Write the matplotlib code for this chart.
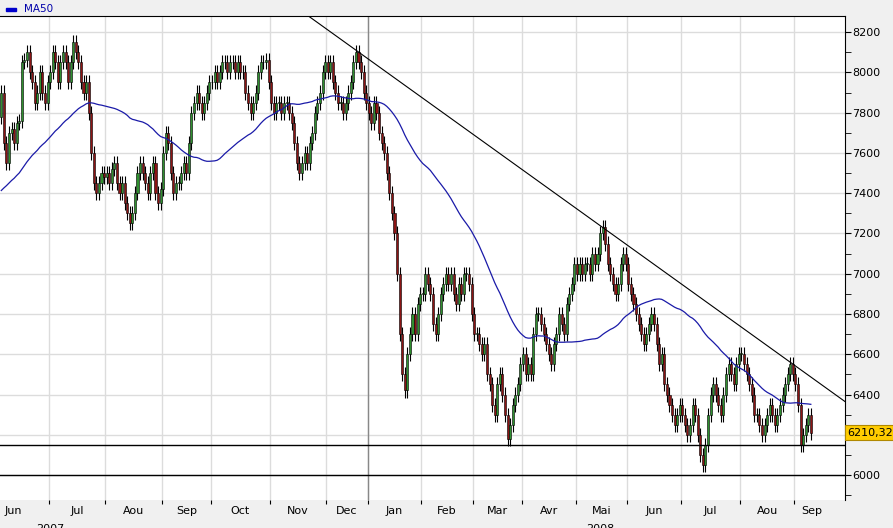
import numpy as np
import pandas as pd
import matplotlib.pyplot as plt
from matplotlib.patches import Rectangle

# -----------------------------
# Data (daily closes)
# -----------------------------
MONTHS = ["Jun", "Jul", "Aou", "Sep", "Oct", "Nov", "Dec", "Jan",
          "Feb", "Mar", "Avr", "Mai", "Jun", "Jul", "Aou", "Sep"]

# history before the visible window, only used for the MA50
PRE_CLOSES = [7000, 7020, 6980, 7050, 7080, 7100, 7060, 7120, 7150, 7130,
              7180, 7200, 7170, 7220, 7250, 7230, 7280, 7300, 7260, 7320,
              7350, 7330, 7380, 7400, 7370, 7420, 7450, 7430, 7470, 7500,
              7480, 7520, 7550, 7530, 7560, 7580, 7550, 7600, 7620, 7600,
              7640, 7660, 7630, 7680, 7700, 7680, 7720, 7750, 7730, 7780]

CLOSES = [
    # Jun 07
    [7900, 7650, 7550, 7700, 7720, 7650, 7750, 7760, 8050, 8060, 8100, 8000,
     7950, 7850, 7900, 8000, 7900, 7850, 7950],
    # Jul
    [8000, 8100, 8050, 7950, 8050, 8100, 8050, 7950, 8050, 8150, 8100, 8050,
     7950, 7900, 7950, 7800, 7600, 7450, 7400, 7450, 7500, 7480],
    # Aou
    [7500, 7450, 7520, 7550, 7450, 7400, 7450, 7350, 7300, 7250, 7300, 7400,
     7500, 7550, 7500, 7450, 7400, 7500, 7550, 7400, 7350, 7420],
    # Sep
    [7600, 7700, 7650, 7500, 7400, 7450, 7450, 7500, 7550, 7500, 7650, 7800,
     7850, 7900, 7850, 7800, 7850, 7900, 7950],
    # Oct
    [7950, 8000, 7950, 8000, 8050, 8050, 8000, 8050, 8050, 8000, 8050, 8000,
     8000, 7900, 7850, 7800, 7850, 7900, 8000, 8050, 8050, 8060, 7950],
    # Nov
    [7850, 7800, 7850, 7850, 7800, 7850, 7850, 7800, 7750, 7650, 7550, 7500,
     7550, 7600, 7550, 7650, 7700, 7800, 7850, 7900, 8000, 8050],
    # Dec
    [8000, 8050, 7950, 7900, 7850, 7850, 7800, 7850, 7900, 7950, 8050, 8100,
     8050, 8000, 7900, 7850],
    # Jan 08
    [7800, 7750, 7850, 7800, 7700, 7650, 7600, 7500, 7400, 7300, 7200, 7000,
     6700, 6500, 6420, 6600, 6700, 6800, 6700, 6850, 6900],
    # Feb
    [6900, 7000, 6950, 6900, 6750, 6700, 6800, 6900, 6950, 7000, 6950, 7000,
     6900, 6850, 6950, 6900, 7000, 7000, 6950, 6800],
    # Mar
    [6700, 6700, 6650, 6600, 6650, 6500, 6450, 6350, 6300, 6450, 6500, 6400,
     6300, 6180, 6250, 6350, 6400, 6450, 6550],
    # Avr
    [6600, 6500, 6550, 6500, 6700, 6800, 6800, 6750, 6700, 6650, 6600, 6550,
     6650, 6700, 6800, 6750, 6700, 6850, 6900, 6950, 7050],
    # Mai
    [7000, 7050, 7000, 7050, 7050, 7000, 7100, 7050, 7100, 7200, 7230, 7150,
     7050, 7000, 6950, 6900, 6950, 7050, 7100, 7050],
    # Jun
    [6950, 6900, 6850, 6800, 6750, 6700, 6650, 6700, 6750, 6800, 6750, 6650,
     6550, 6600, 6450, 6400, 6350, 6300, 6250, 6300, 6350],
    # Jul
    [6300, 6250, 6200, 6250, 6350, 6300, 6200, 6100, 6050, 6150, 6300, 6400,
     6450, 6400, 6350, 6300, 6400, 6500, 6550, 6500, 6450, 6550, 6600],
    # Aou
    [6600, 6550, 6500, 6450, 6400, 6300, 6300, 6250, 6200, 6250, 6300, 6350,
     6300, 6250, 6300, 6350, 6400, 6450, 6500, 6550, 6500],
    # Sep
    [6450, 6350, 6150, 6200, 6250, 6300, 6210.32],
]

TREND = [(119.5, 8280), (328.3, 6365)]     # (day, price)
SUPPORT = [6150, 6000]

UP = "#2f8f2f"
DOWN = "#8b1414"
MA_COLOR = "#1a1aa8"
GRID = "#dcdcdc"


def main():
    closes = np.array([c for m in CLOSES for c in m], dtype=float)
    n = len(closes)
    days = np.arange(n)

    full = pd.Series(np.concatenate([PRE_CLOSES, closes]))
    ma = full.rolling(50).mean().to_numpy()[len(PRE_CLOSES):]

    opens = np.concatenate([[PRE_CLOSES[-1]], closes[:-1]])
    highs = np.maximum(opens, closes) + 35
    lows = np.minimum(opens, closes) - 35

    fig = plt.figure(figsize=(8.93, 5.28), dpi=100)
    fig.patch.set_facecolor("#f0f0f0")
    ax = fig.add_axes([0, 1 - 500 / 528, 845 / 893, 484 / 528])
    ax.set_facecolor("white")

    ax.set_xlim(-0.5, 328.3)
    ax.set_ylim(5876, 8280)

    # grid
    yt = np.arange(6000, 8201, 200)
    for y in yt:
        ax.axhline(y, color=GRID, lw=1, zorder=0)
    lens = [len(m) for m in CLOSES]
    bounds = np.cumsum(lens)[:-1] - 0.5
    for b in bounds:
        ax.axvline(b, color=GRID, lw=1, zorder=0)
    ax.axvline(bounds[6], color="#888888", lw=1, zorder=1)

    # candles
    for i in days:
        o, c = opens[i], closes[i]
        col = UP if c >= o else DOWN
        ax.vlines(i, lows[i], highs[i], color="black", lw=0.8, zorder=2)
        ax.add_patch(Rectangle((i - 0.4, min(o, c)), 0.8, max(abs(c - o), 4),
                               facecolor=col, edgecolor="black", lw=0.4, zorder=3))

    ax.plot(days, ma, color=MA_COLOR, lw=0.9, zorder=4)

    (x0, y0), (x1, y1) = TREND
    ax.plot([x0, x1], [y0, y1], color="black", lw=0.8, zorder=5)
    for s in SUPPORT:
        ax.axhline(s, color="black", lw=1, zorder=5)

    # axes styling
    for sp in ["left", "bottom"]:
        ax.spines[sp].set_visible(False)
    ax.spines["top"].set_color("black")
    ax.spines["right"].set_color("black")
    ax.yaxis.tick_right()
    ax.set_yticks(yt)
    # the 6200 label sits under the last-price tag
    ax.set_yticklabels(["" if v == 6200 else str(v) for v in yt], fontsize=8)
    ax.set_yticks(np.arange(5900, 8300, 200), minor=True)
    ax.tick_params(axis="y", which="both", length=4, direction="out", pad=1)

    starts = np.concatenate([[-0.5], bounds])
    ends = np.concatenate([bounds, [n - 0.5 + 7]])
    centers = (starts + ends) / 2
    centers[0] = 4.5
    ax.set_xticks(bounds)
    ax.set_xticklabels([])
    ax.tick_params(axis="x", length=3, direction="out")
    for cx, lab in zip(centers, MONTHS):
        ax.text(cx, -0.012, lab, transform=ax.get_xaxis_transform(),
                ha="center", va="top", fontsize=8)
    ax.text(19, -0.05, "2007", transform=ax.get_xaxis_transform(),
            ha="center", va="top", fontsize=8)
    ax.text(233, -0.05, "2008", transform=ax.get_xaxis_transform(),
            ha="center", va="top", fontsize=8)

    # last price tag
    ax.text(1.003, closes[-1], f"{closes[-1]:.2f}".replace(".", ","),
            transform=ax.get_yaxis_transform(), ha="left", va="center",
            fontsize=8, bbox=dict(boxstyle="square,pad=0.2", fc="#ffcc00",
                                  ec="#b08800", lw=0.8), zorder=10)

    # legend
    fig.patches.append(Rectangle((6 / 893, 1 - 11 / 528), 10 / 893, 3 / 528,
                                 transform=fig.transFigure, color="#0000cc"))
    fig.text(24 / 893, 1 - 9 / 528, "MA50", fontsize=7.5, color="#0000aa",
             va="center")

    fig.savefig("out.png", dpi=100)


if __name__ == "__main__":
    main()
